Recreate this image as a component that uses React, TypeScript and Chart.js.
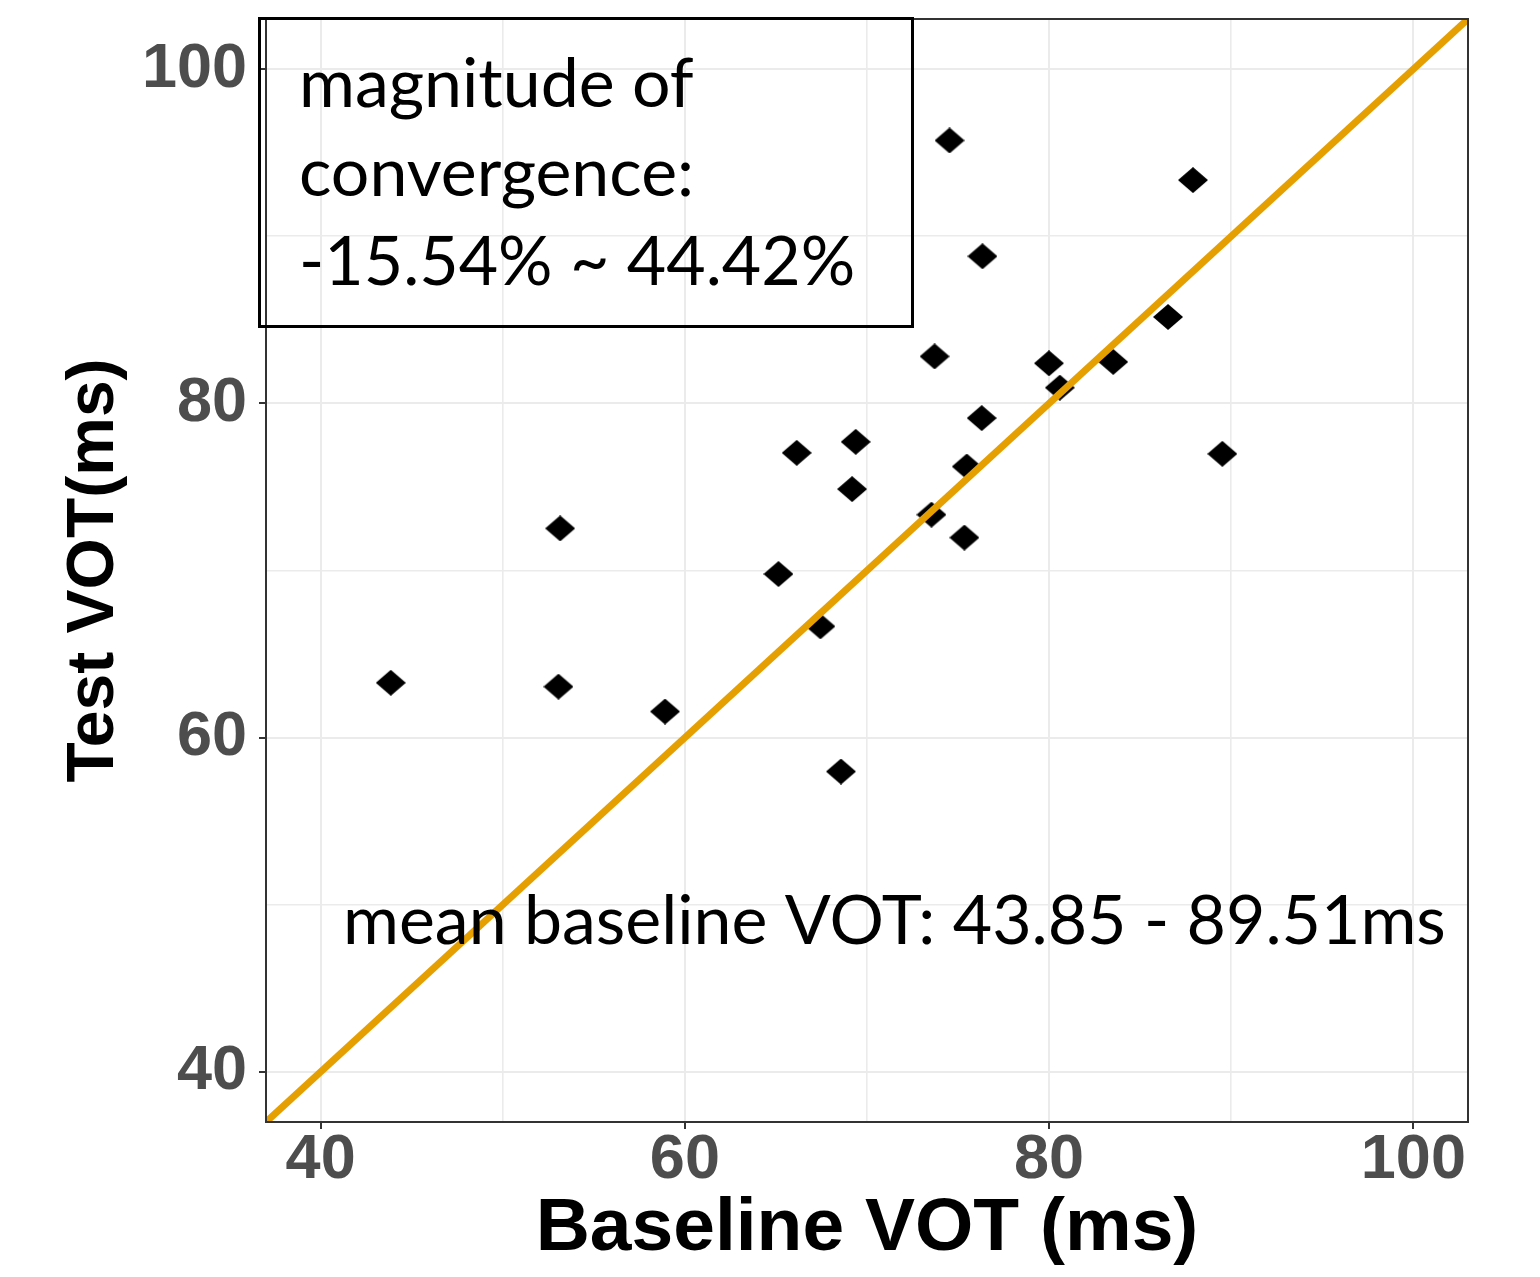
import React, { useEffect, useRef } from "react";
import { Chart, registerables } from "chart.js";

Chart.register(...registerables);

// ---- data ----
const baselineVOT = [
  43.85, 53.15, 53.06, 58.91, 65.14, 66.14, 69.38, 69.18, 67.44, 68.57,
  73.71, 79.99, 80.59, 83.52, 76.3, 75.48, 74.53, 76.34, 73.54, 75.35,
  86.53, 87.9, 89.51,
];
const testVOT = [
  63.28, 72.52, 63.05, 61.56, 69.79, 77.04, 77.7, 74.87, 66.66, 57.97,
  82.81, 82.4, 80.94, 82.48, 79.12, 76.22, 95.73, 88.8, 73.34, 71.97,
  85.17, 93.36, 76.98,
];
const identityLine = [30, 110];
const axisMin = 37;
const axisMax = 103;
const majorTicks = [40, 60, 80, 100];
const gridValues = [40, 50, 60, 70, 80, 90, 100];
const boxLines = ["magnitude of", "convergence:", "-15.54% ~ 44.42%"];
const rangeNote = "mean baseline VOT: 43.85 - 89.51ms";
const xTitle = "Baseline VOT (ms)";
const yTitle = "Test VOT(ms)";

function makeDiamond(): HTMLCanvasElement {
  const c = document.createElement("canvas");
  c.width = 30;
  c.height = 26;
  const g = c.getContext("2d")!;
  g.fillStyle = "#000";
  g.beginPath();
  g.moveTo(15, 0);
  g.lineTo(30, 13);
  g.lineTo(15, 26);
  g.lineTo(0, 13);
  g.closePath();
  g.fill();
  return c;
}

const overlayPlugin = {
  id: "overlay",
  afterDatasetsDraw(chart: any) {
    const { ctx, chartArea } = chart;
    const { left, top, right, bottom } = chartArea;
    ctx.save();
    ctx.strokeStyle = "#333333";
    ctx.lineWidth = 2;
    ctx.strokeRect(left, top, right - left, bottom - top);

    ctx.strokeStyle = "#000";
    ctx.lineWidth = 3;
    ctx.strokeRect(259.5, 18.5, 653, 308);

    ctx.fillStyle = "#000";
    ctx.textAlign = "left";
    ctx.textBaseline = "alphabetic";
    ctx.font = "68px Lato";
    boxLines.forEach((t, i) => ctx.fillText(t, 299, 107 + i * 89));
    ctx.fillText(rangeNote, 343, 944);
    ctx.restore();
  },
};

function axisCfg(isX: boolean) {
  return {
    type: "linear" as const,
    min: axisMin,
    max: axisMax,
    afterBuildTicks: (s: any) => {
      s.ticks = gridValues.map((v) => ({ value: v }));
    },
    afterFit: (s: any) => {
      if (isX) {
        s.height = 155;
        s.paddingLeft = 0;
        s.paddingRight = 0;
      } else {
        s.width = 266;
        s.paddingTop = 0;
        s.paddingBottom = 0;
      }
    },
    ticks: {
      autoSkip: false,
      maxRotation: 0,
      padding: isX ? -6 : 12,
      color: "#4D4D4D",
      font: { family: "Liberation Sans", weight: "bold" as const, size: 63 },
      callback: (v: any) => (majorTicks.includes(Number(v)) ? String(v) : ""),
    },
    grid: {
      color: "#EBEBEB",
      lineWidth: (c: any) => (c.tick && c.tick.value % 20 === 0 ? 2 : 1.6),
      tickLength: 7,
      tickWidth: 2,
      tickColor: (c: any) =>
        c.tick && majorTicks.includes(c.tick.value) ? "#333333" : "rgba(0,0,0,0)",
    },
    border: { display: false },
    title: {
      display: true,
      text: isX ? xTitle : yTitle,
      color: "#000",
      font: { family: "Liberation Sans", weight: "bold" as const, size: isX ? 75 : 66 },
      padding: isX ? { top: 0, bottom: 3 } : { top: 55, bottom: 0 },
    },
  };
}

export default function App() {
  const ref = useRef<HTMLCanvasElement | null>(null);
  useEffect(() => {
    document.body.style.margin = "0";
    if (!ref.current) return;
    const diamond = makeDiamond();
    const chart = new Chart(ref.current, {
      type: "scatter",
      data: {
        datasets: [
          {
            type: "line",
            data: identityLine.map((v) => ({ x: v, y: v })),
            borderColor: "#E69F00",
            borderWidth: 7,
            pointRadius: 0,
            clip: 0,
          } as any,
          {
            type: "scatter",
            data: baselineVOT.map((x, i) => ({ x, y: testVOT[i] })),
            pointStyle: diamond,
            pointRadius: 13,
            backgroundColor: "#000",
            borderColor: "#000",
          } as any,
        ],
      },
      options: {
        animation: false,
        responsive: false,
        devicePixelRatio: 1,
        layout: { padding: { left: 0, top: 19, right: 72, bottom: 0 } },
        plugins: { legend: { display: false }, tooltip: { enabled: false } },
        scales: { x: axisCfg(true) as any, y: axisCfg(false) as any },
      },
      plugins: [overlayPlugin],
    });
    return () => chart.destroy();
  }, []);
  return (
    <div style={{ position: "absolute", left: 0, top: 0, width: 1540, height: 1277, background: "#fff" }}>
      <canvas ref={ref} width={1540} height={1277} style={{ width: 1540, height: 1277 }} />
    </div>
  );
}
